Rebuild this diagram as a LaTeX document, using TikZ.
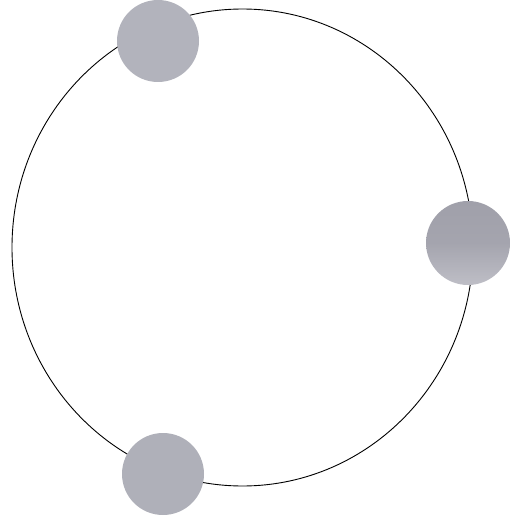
\documentclass[tikz,border=0pt]{standalone}
\begin{document}
\begin{tikzpicture}[x=1pt,y=-1pt,
  ball/.style={circle,inner sep=0pt,minimum size=82pt,fill=ballgray},
  orbit/.style={draw=black,line width=0.9pt}]
\definecolor{ballgray}{RGB}{178,179,188}
\definecolor{balldark}{RGB}{160,160,170}
\definecolor{balllight}{RGB}{190,190,198}
\useasboundingbox (0,0) rectangle (510,526);
\draw[orbit] (242.5,247.5) ellipse [x radius=230.5, y radius=238.5];
\node[ball] (top) at (158,41) {};
\node[ball,minimum size=84pt,fill=none,top color=balldark,bottom color=balllight,middle color=balldark!85!balllight] (right) at (468,243) {};
\node[ball,fill=ballgray!95!gray] (bottom) at (163,474) {};
\end{tikzpicture}
\end{document}
